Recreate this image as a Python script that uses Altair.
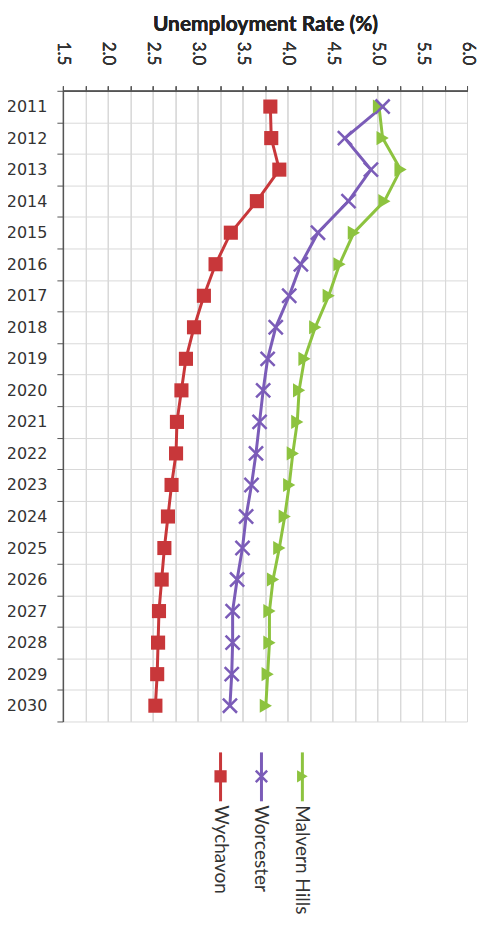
import altair as alt
import pandas as pd

years = list(range(2011, 2031))
wychavon = [3.81, 3.82, 3.91, 3.66, 3.37, 3.20, 3.07, 2.96, 2.87, 2.82,
            2.77, 2.76, 2.71, 2.67, 2.63, 2.60, 2.57, 2.56, 2.55, 2.53]
worcester = [5.06, 4.64, 4.93, 4.68, 4.34, 4.15, 4.02, 3.87, 3.78, 3.73,
             3.69, 3.65, 3.60, 3.54, 3.50, 3.44, 3.39, 3.39, 3.38, 3.36]
malvern = [5.02, 5.06, 5.26, 5.08, 4.74, 4.58, 4.46, 4.31, 4.19, 4.13,
           4.11, 4.06, 4.02, 3.97, 3.91, 3.84, 3.80, 3.80, 3.78, 3.76]
series_names = ["Wychavon", "Worcester", "Malvern Hills"]
colors = ["#C8373A", "#7B5CB8", "#8DC33F"]
x_ticks = [1.5, 1.75, 2.0, 2.25, 2.5, 2.75, 3.0, 3.25, 3.5, 3.75, 4.0,
           4.25, 4.5, 4.75, 5.0, 5.25, 5.5, 5.75, 6.0]

rows = []
for name, vals in zip(series_names, [wychavon, worcester, malvern]):
    for y, v in zip(years, vals):
        rows.append({"series": name, "year": y, "rate": v})
df = pd.DataFrame(rows)
legend_df = pd.DataFrame({"series": series_names})

XPATH = "M-1,-1L1,1M-1,1L1,-1"
FONT = "Lato"

color = alt.Color("series:N", scale=alt.Scale(domain=series_names, range=colors), legend=None)

base = alt.Chart(df).encode(
    x=alt.X("rate:Q",
            scale=alt.Scale(domain=[1.5, 6.0], nice=False, zero=False),
            axis=alt.Axis(orient="top", values=x_ticks,
                          labelExpr="datum.value % 0.5 == 0 ? format(datum.value, '.1f') : ''",
                          labelAngle=90, labelFont=FONT, labelFontSize=17,
                          labelColor="#333333", labelPadding=21,
                          tickSize=5, tickColor="#555555",
                          domainColor="#555555", domainWidth=1.5,
                          grid=True, gridColor="#d9d9d9",
                          title="Unemployment Rate (%)", titleFont=FONT,
                          titleFontSize=21, titleFontWeight="bold",
                          titleColor="#222222", titlePadding=7)),
    y=alt.Y("year:O", sort="ascending",
            scale=alt.Scale(type="band", paddingInner=0, paddingOuter=0),
            axis=alt.Axis(tickBand="extent", title=None,
                          labelFont="DejaVu Sans", labelFontSize=16,
                          labelColor="#333333", labelPadding=10,
                          tickSize=6, tickColor="#555555",
                          domainColor="#555555", domainWidth=1.5,
                          grid=True, gridColor="#d9d9d9")),
    color=color,
)

lines = base.mark_line(strokeWidth=3).encode(order=alt.Order("year:Q"))
filled_pts = base.mark_point(filled=True, opacity=1, size=200).encode(
    shape=alt.Shape("series:N",
                    scale=alt.Scale(domain=["Wychavon", "Malvern Hills"],
                                    range=["square", "triangle-right"]),
                    legend=None)
).transform_filter("datum.series != 'Worcester'")
x_pts = base.mark_point(filled=False, opacity=1, size=200, shape=XPATH,
                        strokeWidth=2.5).transform_filter("datum.series == 'Worcester'")

lx = alt.X("series:N", scale=alt.Scale(type="point", domain=series_names,
                                       range=[158, 240], padding=0), axis=None)
leg = alt.Chart(legend_df)
leg_rule = leg.mark_rule(strokeWidth=3).encode(
    x=lx, y=alt.value(663), y2=alt.value(712), color=color)
leg_fill = leg.mark_point(filled=True, opacity=1, size=150).encode(
    x=lx, y=alt.value(687), color=color,
    shape=alt.Shape("series:N",
                    scale=alt.Scale(domain=["Wychavon", "Malvern Hills"],
                                    range=["square", "triangle-right"]),
                    legend=None)
).transform_filter("datum.series != 'Worcester'")
leg_x = leg.mark_point(filled=False, opacity=1, size=130, shape=XPATH,
                       strokeWidth=2.5).encode(
    x=lx, y=alt.value(687), color=color
).transform_filter("datum.series == 'Worcester'")
leg_text = leg.mark_text(angle=90, align="left", baseline="middle", font=FONT,
                         fontSize=19, color="#333333").encode(
    x=lx, y=alt.value(716), text="series:N")

chart = alt.layer(lines, filled_pts, x_pts, leg_rule, leg_fill, leg_x, leg_text).resolve_scale(
    x="independent"
).properties(
    width=405, height=632,
    autosize=alt.AutoSizeParams(type="none"),
    padding={"left": 55, "top": 82, "right": 15, "bottom": 200},
).configure_view(stroke=None)

chart.save("out.html", embed_options={"renderer": "svg", "actions": False})
